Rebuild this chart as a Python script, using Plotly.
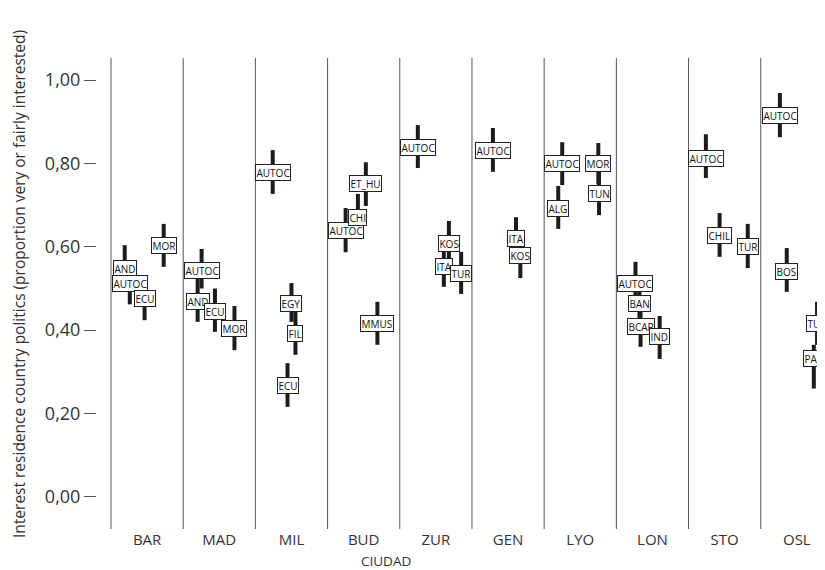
import plotly.graph_objects as go

cities = ["BAR", "MAD", "MIL", "BUD", "ZUR", "GEN", "LYO", "LON", "STO", "OSL"]

# one entry per (city, group) estimate
point_city = ["BAR", "BAR", "BAR", "BAR",
              "MAD", "MAD", "MAD", "MAD",
              "MIL", "MIL", "MIL", "MIL",
              "BUD", "BUD", "BUD", "BUD",
              "ZUR", "ZUR", "ZUR", "ZUR",
              "GEN", "GEN", "GEN",
              "LYO", "LYO", "LYO", "LYO",
              "LON", "LON", "LON", "LON",
              "STO", "STO", "STO",
              "OSL", "OSL", "OSL", "OSL"]
point_group = ["AND", "AUTOC", "ECU", "MOR",
               "AUTOC", "AND", "ECU", "MOR",
               "AUTOC", "EGY", "FIL", "ECU",
               "AUTOC", "CHI", "ET_HU", "MMUS",
               "AUTOC", "ITA", "KOS", "TUR",
               "AUTOC", "ITA", "KOS",
               "AUTOC", "ALG", "MOR", "TUN",
               "AUTOC", "BAN", "BCAR", "IND",
               "AUTOC", "CHIL", "TUR",
               "AUTOC", "BOS", "TUR", "PAK"]
mean_val = [0.549, 0.511, 0.475, 0.602,
            0.542, 0.468, 0.446, 0.405,
            0.779, 0.465, 0.393, 0.268,
            0.640, 0.671, 0.751, 0.417,
            0.839, 0.552, 0.609, 0.537,
            0.832, 0.620, 0.578,
            0.800, 0.693, 0.799, 0.729,
            0.511, 0.465, 0.410, 0.384,
            0.813, 0.626, 0.600,
            0.916, 0.540, 0.415, 0.333]
ci_low = [0.500, 0.462, 0.424, 0.552,
          0.500, 0.420, 0.396, 0.352,
          0.727, 0.420, 0.341, 0.216,
          0.587, 0.620, 0.698, 0.365,
          0.789, 0.504, 0.555, 0.487,
          0.780, 0.568, 0.525,
          0.748, 0.643, 0.750, 0.676,
          0.460, 0.420, 0.360, 0.331,
          0.765, 0.576, 0.549,
          0.863, 0.492, 0.365, 0.260]
ci_high = [0.604, 0.550, 0.528, 0.655,
           0.595, 0.525, 0.500, 0.458,
           0.832, 0.513, 0.445, 0.321,
           0.693, 0.727, 0.803, 0.468,
           0.892, 0.600, 0.662, 0.588,
           0.885, 0.671, 0.625,
           0.851, 0.746, 0.849, 0.780,
           0.564, 0.510, 0.460, 0.434,
           0.870, 0.681, 0.655,
           0.969, 0.597, 0.468, 0.365]

# horizontal dodge of each estimate inside its city panel (category units)
dodge = [-0.31, -0.24, -0.035, 0.23,
         -0.245, -0.30, -0.06, 0.21,
         -0.26, 0.0, 0.055, -0.055,
         -0.25, -0.08, 0.03, 0.19,
         -0.25, 0.11, 0.18, 0.35,
         -0.21, 0.11, 0.17,
         -0.25, -0.305, 0.25, 0.26,
         -0.235, -0.18, -0.165, 0.10,
         -0.26, -0.07, 0.32,
         -0.235, -0.14, 0.28, 0.235]

ytick_vals = [0.0, 0.2, 0.4, 0.6, 0.8, 1.0]

xs = [cities.index(c) + d for c, d in zip(point_city, dodge)]
err_plus = [h - m for h, m in zip(ci_high, mean_val)]
err_minus = [m - l for m, l in zip(mean_val, ci_low)]

INK = "#1c1c1c"
TXT = "#333333"
FONT = "Open Sans, Noto Sans, sans-serif"

# page body has an 8px margin, so the figure is sized to fit the window
W, H = 817, 562
ML, MR, MT, MB = 89, 0, 50, 41
plot_w = W - ML - MR
plot_h = H - MT - MB

fig = go.Figure()
fig.add_trace(go.Scatter(
    x=xs, y=mean_val, mode="markers",
    marker=dict(size=1, color="rgba(0,0,0,0)"),
    error_y=dict(type="data", symmetric=False, array=err_plus, arrayminus=err_minus,
                 color=INK, thickness=4, width=0),
    hoverinfo="skip", showlegend=False, cliponaxis=False,
))

for x, y, g in zip(xs, mean_val, point_group):
    fig.add_annotation(x=x, y=y, xref="x", yref="y", text=g, showarrow=False,
                       font=dict(family=FONT, size=10, color="#111"),
                       bgcolor="white", bordercolor="#222", borderwidth=1, borderpad=0.5,
                       xanchor="center", yanchor="middle")

for i in range(len(cities)):
    fig.add_shape(type="line", xref="x", yref="paper", x0=i - 0.5, x1=i - 0.5, y0=0, y1=1,
                  line=dict(color="#555555", width=1), layer="below")

fig.add_annotation(xref="paper", yref="paper", x=(11 - ML) / plot_w, y=(H - MB - 276) / plot_h,
                   text="Interest residence country politics (proportion very or fairly interested)",
                   textangle=-90, showarrow=False, xanchor="center", yanchor="middle",
                   font=dict(family=FONT, size=15.5, color=TXT))
fig.add_annotation(xref="paper", yref="paper", x=(378 - ML) / plot_w, y=-(553 - (H - MB)) / plot_h,
                   text="CIUDAD", showarrow=False, xanchor="center", yanchor="middle",
                   font=dict(family=FONT, size=13.5, color=TXT))

fig.update_layout(
    width=W, height=H,
    margin=dict(l=ML, r=MR, t=MT, b=MB, autoexpand=False),
    paper_bgcolor="white", plot_bgcolor="white",
    separators=", ",
    font=dict(family=FONT, color=TXT),
    xaxis=dict(range=[-0.694, 9.39], tickmode="array", tickvals=list(range(len(cities))),
               ticktext=cities, showgrid=False, zeroline=False, showline=False,
               ticks="", automargin=False,
               tickfont=dict(size=15, color=TXT)),
    yaxis=dict(range=[-0.077, 1.053], tickmode="array", tickvals=ytick_vals,
               tickformat=".2f", showgrid=False, zeroline=False, showline=False,
               ticks="outside", ticklen=12, tickcolor="#555", tickwidth=1, automargin=False,
               tickfont=dict(size=18, color=TXT)),
)

fig.write_html("out.html")
